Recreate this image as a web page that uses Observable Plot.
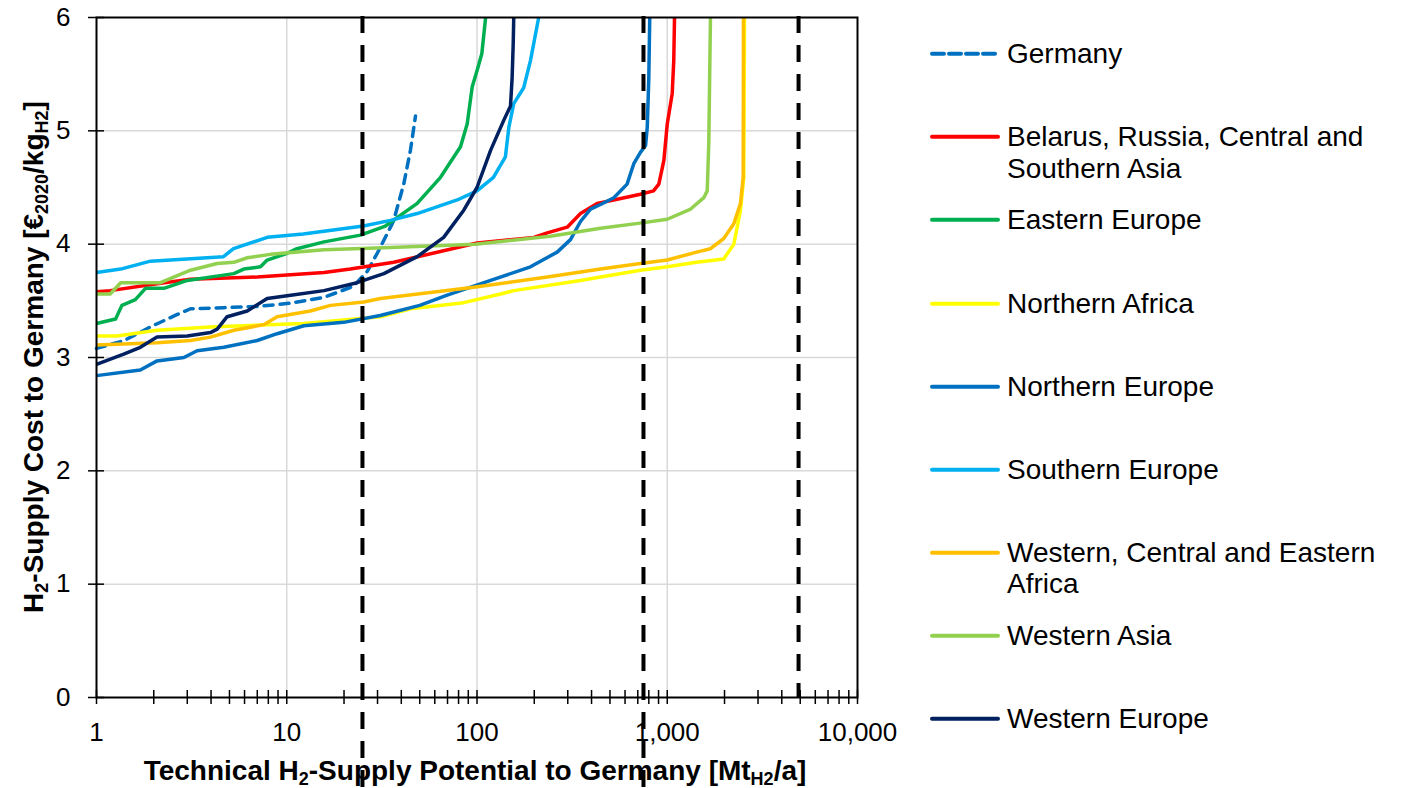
<!DOCTYPE html>
<html><head><meta charset="utf-8">
<script src="https://cdn.jsdelivr.net/npm/d3@7"></script>
<script src="https://cdn.jsdelivr.net/npm/@observablehq/plot@0.6"></script>
<style>
body{margin:0;background:#fff;font-family:"Liberation Sans",Arial,sans-serif;}
#wrap{position:relative;width:1404px;height:788px;overflow:hidden;background:#fff;}
#chart{position:absolute;left:0;top:0;}
.item{position:absolute;left:930px;display:flex;align-items:flex-start;font-size:28px;line-height:31.5px;color:#000;}
.item svg{flex:none;margin-right:7px;}
.item span{max-width:385px;}
</style></head><body>
<div id="wrap"><div id="chart"></div><div id="legend"></div></div>
<script>
// ---- data: [technical potential (Mt H2/a), supply cost (EUR2020/kg H2)] ----
const seriesNames = [
  "Germany",
  "Belarus, Russia, Central and Southern Asia",
  "Eastern Europe",
  "Northern Africa",
  "Northern Europe",
  "Southern Europe",
  "Western, Central and Eastern Africa",
  "Western Asia",
  "Western Europe"
];
const germany = [[1,3.08],[1.4,3.15],[1.92,3.27],[2.66,3.38],[3.12,3.43],[4.67,3.44],[7,3.45],[10.5,3.48],[15.7,3.53],[22.5,3.63],[26.5,3.76],[29.9,3.92],[35.1,4.15],[36.5,4.21],[41.2,4.53],[44.7,4.83],[47.5,5.13]];
const belarusRussiaAsia = [[1,3.58],[1.18,3.59],[2.08,3.65],[3.12,3.69],[7,3.71],[15.7,3.75],[21.6,3.78],[36.5,3.84],[100,4.01],[199,4.06],[234,4.10],[298,4.15],[350,4.27],[428,4.36],[524,4.39],[723,4.44],[847,4.47],[903,4.53],[960,4.74],[1000,5.06],[1062,5.33],[1082,5.62],[1092,6.0]];
const easternEurope = [[1,3.30],[1.26,3.34],[1.36,3.46],[1.6,3.51],[1.81,3.61],[2.26,3.61],[3.0,3.68],[5.27,3.74],[5.94,3.78],[7.28,3.80],[7.89,3.86],[10.05,3.92],[11.3,3.96],[15.7,4.02],[24.4,4.08],[33,4.16],[48.5,4.36],[64.3,4.59],[81.9,4.86],[88.8,5.06],[94.4,5.39],[100,5.53],[106,5.68],[111,6.0]];
const northernAfrica = [[1,3.19],[1.28,3.19],[2.08,3.24],[3.97,3.27],[12.3,3.30],[31.1,3.36],[44.7,3.43],[83,3.48],[133,3.56],[156,3.59],[350,3.68],[446,3.71],[723,3.77],[1000,3.80],[1425,3.84],[1982,3.87],[2238,4.0],[2427,4.30],[2525,4.59],[2547,6.0]];
const northernEurope = [[1,2.84],[1.7,2.89],[2.08,2.97],[2.88,3.00],[3.38,3.06],[4.67,3.09],[7,3.15],[8.9,3.21],[12.3,3.28],[19.9,3.31],[31,3.37],[50,3.46],[69.7,3.55],[118,3.68],[191,3.80],[264,3.93],[310,4.04],[350,4.20],[395,4.31],[446,4.35],[524,4.41],[615,4.53],[667,4.71],[723,4.81],[769,4.87],[785,5.03],[800,5.47],[809,6.0]];
const southernEurope = [[1,3.75],[1.34,3.78],[1.92,3.85],[4.65,3.89],[5.25,3.96],[7.9,4.06],[12.2,4.09],[25.3,4.16],[35.1,4.21],[48.5,4.27],[78.7,4.39],[100,4.47],[122,4.59],[141,4.77],[147,5.03],[156,5.24],[176,5.38],[191,5.62],[211,6.0]];
const wceAfrica = [[1,3.11],[2.08,3.13],[3.12,3.15],[3.97,3.18],[5.27,3.24],[7.57,3.29],[8.9,3.36],[13.3,3.41],[17,3.46],[25.4,3.49],[31.1,3.52],[96.2,3.62],[234,3.71],[446,3.78],[723,3.83],[1000,3.86],[1425,3.93],[1687,3.96],[1982,4.05],[2238,4.18],[2427,4.36],[2507,4.59],[2515,6.0]];
const westernAsia = [[1,3.56],[1.18,3.56],[1.34,3.66],[2.17,3.66],[3.12,3.77],[4.31,3.83],[5.27,3.84],[6.2,3.88],[8.2,3.91],[15.7,3.95],[35.1,3.97],[98,4.0],[243,4.07],[446,4.14],[753,4.19],[1000,4.22],[1328,4.31],[1557,4.41],[1622,4.47],[1653,4.89],[1687,6.0]];
const westernEurope = [[1,2.94],[1.39,3.03],[1.7,3.09],[2.08,3.18],[3.0,3.19],[3.97,3.22],[4.31,3.25],[4.86,3.36],[6.2,3.41],[7.89,3.52],[10.5,3.55],[15.7,3.59],[23.4,3.66],[32.4,3.74],[48.5,3.89],[66.8,4.06],[85.2,4.30],[100,4.50],[118,4.83],[138,5.09],[150,5.22],[153,5.47],[155,5.77],[156,6.0]];
const seriesValues = [germany, belarusRussiaAsia, easternEurope, northernAfrica, northernEurope, southernEurope, wceAfrica, westernAsia, westernEurope];
const referenceLines = [25, 750, 4900];
const xTickLabels = [1, 10, 100, 1000, 10000];
const yTickLabels = [0, 1, 2, 3, 4, 5, 6];

// ---- styles ----
const seriesColors = ["#0070C0","#FF0000","#00B050","#FFFF00","#0070C0","#00B0F0","#FFC000","#92D050","#002060"];
const seriesDash = ["9,7",null,null,null,null,null,null,null,null];

const table = seriesValues.map((pts, i) => pts.map(([x, y]) => ({series: seriesNames[i], x, y})));
const minorTicks = [];
for (let d = 1; d < 10000; d *= 10) for (let k = 1; k < 10; k++) minorTicks.push(k * d);
minorTicks.push(10000);

const chart = Plot.plot({
  width: 905, height: 788,
  marginLeft: 96, marginRight: 48, marginTop: 17, marginBottom: 91,
  style: {fontFamily: "'Liberation Sans', Arial, sans-serif", fontSize: "26px", color: "#000", background: "#fff", overflow: "visible"},
  x: {type: "log", domain: [1, 10000]},
  y: {domain: [0, 6]},
  marks: [
    Plot.gridY(yTickLabels.slice(1, -1), {stroke: "#d9d9d9", strokeOpacity: 1, strokeWidth: 1.5}),
    Plot.gridX(xTickLabels.slice(1, -1), {stroke: "#d9d9d9", strokeOpacity: 1, strokeWidth: 1.5}),
    ...table.map((d, i) => Plot.line(d, {x: "x", y: "y", stroke: seriesColors[i], strokeWidth: 3.5,
      strokeDasharray: seriesDash[i] || undefined, strokeLinejoin: "round", strokeLinecap: seriesDash[i] ? "round" : "butt"})),
    Plot.frame({stroke: "#000", strokeWidth: 2}),
    Plot.ruleX(referenceLines.slice(0, 2), {stroke: "#000", strokeWidth: 4, strokeDasharray: "17,12", insetBottom: -91, insetTop: -1}),
    Plot.ruleX(referenceLines.slice(2), {stroke: "#000", strokeWidth: 4, strokeDasharray: "17,12", insetTop: -1}),
    Plot.axisX(minorTicks, {tickSize: 14, dy: -7, tickFormat: () => "", strokeWidth: 1.5, label: null}),
    Plot.axisX(xTickLabels, {tickSize: 0, tickPadding: 25, tickFormat: d3.format(","), fontSize: 26, label: null}),
    Plot.axisY(yTickLabels, {tickSize: 16, dx: 8, tickFormat: () => "", strokeWidth: 1.5, label: null}),
    Plot.axisY(yTickLabels, {tickSize: 0, tickPadding: 26, tickFormat: d3.format("d"), fontSize: 26, label: null})
  ]
});
document.getElementById("chart").appendChild(chart);

// axis titles with subscripts
const svg = d3.select(chart);
function addRich(g, parts) {
  let prevSub = false;
  for (const [t, sub] of parts) {
    const s = g.append("tspan").text(t);
    if (sub && !prevSub) s.attr("font-size", 18).attr("dy", 5);
    else if (!sub && prevSub) s.attr("dy", -5);
    else if (sub) s.attr("font-size", 18);
    prevSub = !!sub;
  }
}
const xt = svg.append("text").attr("x", 475).attr("y", 780).attr("text-anchor", "middle")
  .attr("font-weight", "bold").attr("font-size", 28).attr("fill", "#000");
addRich(xt, [["Technical H"], ["2", 1], ["-Supply Potential to Germany [Mt"], ["H2", 1], ["/a]"]]);
const yt = svg.append("text").attr("transform", "translate(43,357) rotate(-90)").attr("text-anchor", "middle")
  .attr("font-weight", "bold").attr("font-size", 28).attr("fill", "#000");
addRich(yt, [["H"], ["2", 1], ["-Supply Cost to Germany [€"], ["2020", 1], ["/kg"], ["H2", 1], ["]"]]);

// legend
const legend = d3.select("#legend");
seriesNames.forEach((name, i) => {
  const item = legend.append("div").attr("class", "item").style("top", (54 + i * 83.1 - 15.75) + "px");
  const sw = item.append("svg").attr("width", 70).attr("height", 31.5);
  sw.append("line").attr("x1", 2).attr("x2", 68).attr("y1", 15.75).attr("y2", 15.75)
    .attr("stroke", seriesColors[i]).attr("stroke-width", 4)
    .attr("stroke-dasharray", seriesDash[i] ? "12,5" : null)
    .attr("stroke-linecap", "round");
  item.append("span").text(name);
});
</script>
</body></html>
